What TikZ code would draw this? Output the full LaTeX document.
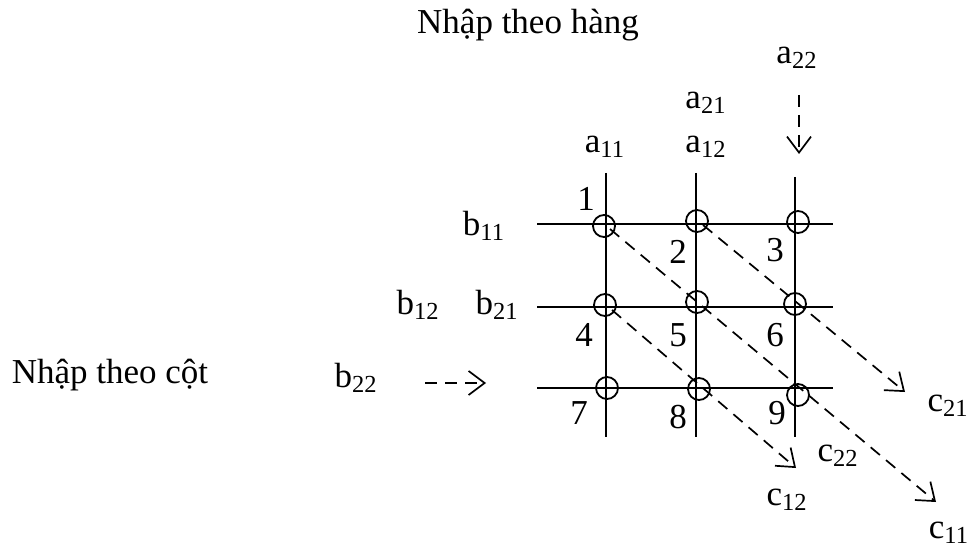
\documentclass[tikz,border=0pt]{standalone}
\usepackage{fontspec}
\setmainfont{Liberation Serif}
\usetikzlibrary{arrows.meta}
\begin{document}
\begin{tikzpicture}[x=0.5pt,y=-0.5pt,
  txt/.style={font=\fontsize{17.5}{20}\selectfont, inner sep=0pt},
  grid/.style={line width=1pt},
  ring/.style={circle, draw, line width=0.9pt, minimum size=11pt, inner sep=0pt},
  flow/.style={line width=0.85pt, dash pattern=on 6pt off 4pt, -{Straight Barb[length=8pt,width=12pt,line width=0.85pt]}}]
\useasboundingbox (0,0) rectangle (972,550);
% grid lines
\draw[grid] (537,224) -- (833,224);
\draw[grid] (537,307) -- (833,307);
\draw[grid] (537,388) -- (833,388);
\draw[grid] (606,173) -- (606,437);
\draw[grid] (696,173) -- (696,437);
\draw[grid] (795,177) -- (795,437);
% circles
\node[ring] (c1) at (604,226) {};
\node[ring] (c2) at (697,221) {};
\node[ring] (c3) at (798,222) {};
\node[ring] (c4) at (605,305) {};
\node[ring] (c5) at (697,302) {};
\node[ring] (c6) at (795,304) {};
\node[ring] (c7) at (607,388) {};
\node[ring] (c8) at (699,389) {};
\node[ring] (c9) at (798,395) {};
% numbers
\node[txt] (n1) at (586,199) {1};
\node[txt] (n2) at (678,252) {2};
\node[txt] (n3) at (775,250) {3};
\node[txt] (n4) at (584,335) {4};
\node[txt] (n5) at (678,335) {5};
\node[txt] (n6) at (775,335) {6};
\node[txt] (n7) at (579,413) {7};
\node[txt] (n8) at (678,417) {8};
\node[txt] (n9) at (777,413) {9};
% titles
\node[txt] (top) at (528,25) {Nhập theo hàng};
\node[txt] (left) at (110,375) {Nhập theo cột};
% a labels
\node[txt] (a11) at (605,147) {a\textsubscript{11}};
\node[txt] (a21) at (706,103) {a\textsubscript{21}};
\node[txt] (a12) at (706,147) {a\textsubscript{12}};
\node[txt] (a22) at (797,58) {a\textsubscript{22}};
% b labels
\node[txt] (b11) at (484,226) {b\textsubscript{11}};
\node[txt] (b12) at (418,305) {b\textsubscript{12}};
\node[txt] (b21) at (497,305) {b\textsubscript{21}};
\node[txt] (b22) at (356,378) {b\textsubscript{22}};
% c labels
\node[txt] (c21l) at (948,406) {c\textsubscript{21}};
\node[txt] (c22l) at (838,456) {c\textsubscript{22}};
\node[txt] (c12l) at (787,500) {c\textsubscript{12}};
\node[txt] (c11l) at (949,533) {c\textsubscript{11}};
% input arrows
\coordinate (aS) at (799,95);
\coordinate (aE) at (799,154);
\draw[flow] (aS) -- (aE);
\coordinate (bS) at (425,383);
\coordinate (bE) at (486,383);
\draw[flow] (bS) -- (bE);
% diagonal output arrows
\coordinate (d1) at (936,502);
\coordinate (d2) at (905,392);
\coordinate (d3) at (796,468);
\draw[flow] (c1.center) ++(6,3) -- (d1);
\draw[flow] (c2.center) ++(6,4) -- (d2);
\draw[flow] (c4.center) ++(7,5) -- (d3);
\end{tikzpicture}
\end{document}
